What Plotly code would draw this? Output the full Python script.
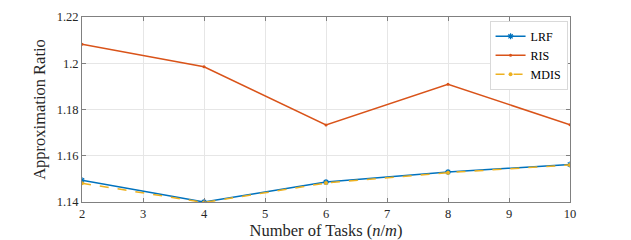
import plotly.graph_objects as go

tasks = [2, 4, 6, 8, 10]
lrf = [1.1494, 1.1400, 1.1486, 1.1530, 1.1562]
ris = [1.2082, 1.1985, 1.1733, 1.1909, 1.1734]
mdis = [1.1481, 1.1398, 1.1482, 1.1527, 1.1560]

x_ticks = [2, 3, 4, 5, 6, 7, 8, 9, 10]
y_ticks = [1.14, 1.16, 1.18, 1.20, 1.22]
y_labels = ["1.14", "1.16", "1.18", "1.2", "1.22"]

font = "Liberation Serif, Times New Roman, serif"

fig = go.Figure()
fig.add_trace(go.Scatter(x=tasks, y=lrf, name="LRF", mode="lines+markers",
                         line=dict(color="#0072BD", width=1.5),
                         marker=dict(symbol="asterisk-open", size=5, line=dict(color="#0072BD", width=1.2))))
fig.add_trace(go.Scatter(x=tasks, y=ris, name="RIS", mode="lines+markers",
                         line=dict(color="#D95319", width=1.5),
                         marker=dict(symbol="circle", size=3, color="#D95319")))
fig.add_trace(go.Scatter(x=tasks, y=mdis, name="MDIS", mode="lines+markers",
                         line=dict(color="#EDB120", width=1.5, dash="dash"),
                         marker=dict(symbol="circle", size=4, color="#EDB120")))

axis_common = dict(showline=True, linecolor="#808080", linewidth=1, mirror="ticks",
                   ticks="inside", ticklen=4, tickcolor="#808080",
                   showgrid=True, gridcolor="#e6e6e6", gridwidth=1, zeroline=False,
                   automargin=False,
                   tickfont=dict(family=font, size=12.5, color="#262626"))

fig.update_layout(
    width=623, height=232,
    margin=dict(l=74, r=61, t=9, b=38),
    paper_bgcolor="white", plot_bgcolor="white",
    font=dict(family=font, color="#262626"),
    xaxis=dict(range=[2, 10], tickvals=x_ticks,
               title=dict(text="Number of Tasks (<i>n</i>/<i>m</i>)", font=dict(family=font, size=16.5), standoff=1),
               **axis_common),
    yaxis=dict(range=[1.14, 1.22], tickvals=y_ticks, ticktext=y_labels,
               title=dict(text="Approximation Ratio", font=dict(family=font, size=16.5), standoff=6),
               **axis_common),
    legend=dict(x=0.995, y=0.98, xanchor="right", yanchor="top",
                bgcolor="white", bordercolor="#d9d9d9", borderwidth=1,
                font=dict(family=font, size=12, color="#000000"),
                tracegroupgap=0, itemwidth=30),
    showlegend=True,
)

fig.write_html("out.html")
